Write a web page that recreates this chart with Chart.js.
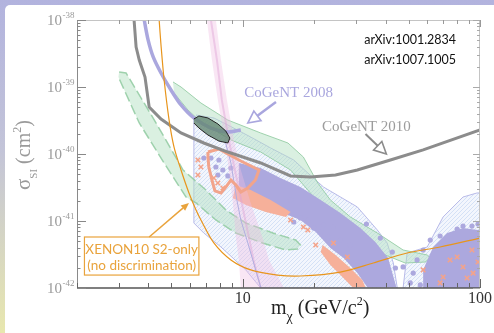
<!DOCTYPE html>
<html lang="en">
<head>
<meta charset="UTF-8">
<title>CoGeNT / XENON10 low-mass WIMP plot</title>
<style>
    body {
        margin: 0;
        width: 494px;
        height: 333px;
        overflow: hidden;
        position: relative;
        background: linear-gradient(to bottom, #b2b3de 0%, #c3c4d8 45%, #e8e7ae 100%);
    }
    .panel {
        position: absolute;
        left: 5px; top: 5px; right: 0; bottom: 0;
        background: #fff;
        border-top-left-radius: 5px;
    }
    canvas { position: absolute; left: 0; top: 0; }
</style>
</head>
<body>
<div class="panel"></div>
<canvas id="plot" width="494" height="333"></canvas>

<script src="https://cdn.jsdelivr.net/npm/chart.js"></script>
<script>
// WIMP mass in GeV/c^2, cross section in cm^2
const cogent2010Mass  = [3.48, 3.55, 3.66, 3.87, 4.03, 4.52, 5.49, 6.85, 8.65, 11.9, 15.9, 19.3, 24.6, 30.4, 41.9, 57.6, 100];
const cogent2010Sigma = [1.0e-38, 3.95e-39, 2.53e-39, 1.41e-39, 5.03e-40, 3.33e-40, 2.06e-40, 1.46e-40, 1.07e-40, 7.34e-41, 4.70e-41, 4.54e-41, 4.86e-41, 5.77e-41, 8.13e-41, 1.15e-40, 2.28e-40];

const cogent2008Mass  = [3.84, 3.99, 4.19, 4.52, 4.98, 5.49, 6.22, 7.34, 8.65, 9.81];
const cogent2008Sigma = [1.0e-38, 5.0e-39, 2.81e-39, 1.62e-39, 9.02e-40, 5.39e-40, 3.45e-40, 2.44e-40, 2.13e-40, 2.28e-40];

const xenonMass  = [4.44, 4.52, 4.66, 4.89, 5.13, 5.49, 5.93, 6.35, 6.66, 7.55, 8.91, 10.8, 14.0, 17.5, 25.8, 35.5, 49.3, 67.9, 100];
const xenonSigma = [1.0e-38, 4.24e-39, 1.27e-39, 3.21e-40, 1.27e-40, 5.77e-41, 2.62e-41, 1.46e-41, 1.035e-41, 4.70e-42, 2.62e-42, 1.86e-42, 1.56e-42, 1.51e-42, 1.73e-42, 2.36e-42, 3.33e-42, 4.09e-42, 5.57e-42];

// CoGeNT 2010 preferred region (ellipse) and the salmon contour
const ellipseMass  = [6.22, 6.53, 7.13, 7.85, 8.48, 8.82, 8.65, 7.93, 7.13, 6.53, 6.22];
const ellipseSigma = [3.33e-40, 3.69e-40, 3.45e-40, 2.81e-40, 2.20e-40, 1.73e-40, 1.46e-40, 1.56e-40, 1.92e-40, 2.44e-40, 2.90e-40];
const contourMass  = [7.13, 7.93, 8.65, 9.81, 11.7, 11.3, 10.5, 9.81, 9.35, 8.91, 8.48, 8.09, 7.63, 7.41, 7.19, 7.13, 7.13];
const contourSigma = [1.07e-40, 1.19e-40, 1.0e-40, 7.86e-41, 5.77e-41, 4.09e-41, 3.11e-41, 2.71e-41, 3.44e-41, 4.09e-41, 3.21e-41, 2.62e-41, 2.81e-41, 4.09e-41, 6.40e-41, 9.02e-41, 1.07e-40];

// pink band
const pinkMass  = [7.06, 7.41, 7.85, 8.40, 8.73, 9.08, 9.35, 9.62, 9.81, 14.9, 12.9, 12.1, 10.8, 9.81, 9.17, 8.57, 8.09, 7.70];
const pinkSigma = [1e-38, 2.53e-39, 6.40e-40, 1.62e-40, 5.77e-41, 1.86e-41, 5.77e-42, 2.62e-42, 1e-42, 1e-42, 2.62e-42, 5.77e-42, 1.86e-41, 5.77e-41, 1.62e-40, 6.40e-40, 2.53e-39, 1e-38];
const pinkMidMass  = [7.34, 7.78, 8.16, 8.73, 9.26, 9.90, 10.6, 11.1, 11.9];
const pinkMidSigma = [1e-38, 2.53e-39, 6.40e-40, 1.62e-40, 5.77e-41, 1.86e-41, 5.77e-42, 2.62e-42, 1e-42];
const thinLineMass  = [8.40, 8.91, 9.44, 9.81, 10.5, 11.9];
const thinLineSigma = [1.62e-40, 7.34e-41, 2.06e-41, 1.035e-41, 4.70e-42, 1.03e-42];

// hatched regions
const hatchAMass  = [6.35, 7.55, 8.65, 10.8, 13.1, 16.4, 18.8, 21.9, 30.4, 36.9, 40.6, 43.1, 44.8, 11.9, 10.3, 8.09, 6.85, 6.22, 6.22];
const hatchASigma = [3.82e-40, 3.45e-40, 2.71e-40, 1.79e-40, 1.23e-40, 8.13e-41, 5.20e-41, 3.21e-41, 1.62e-41, 7.34e-42, 4.70e-42, 2.36e-42, 1e-42, 1e-42, 1.86e-42, 4.09e-42, 6.62e-42, 9.33e-42, 3.45e-40];
const hatchBMass  = [47.4, 49.3, 54.3, 59.9, 69.9, 84.8, 97.1, 100, 100];
const hatchBSigma = [1e-42, 3.33e-42, 3.69e-42, 4.09e-42, 1.15e-41, 2.28e-41, 2.62e-41, 2.62e-41, 1e-42];

// green bands
const greenLowMass  = [3.01, 3.22, 4.31, 5.60, 6.99, 8.48, 10.3, 13.4, 16.7, 17.5, 17.0, 15.2, 12.1, 9.35, 7.70, 6.35, 5.76, 4.66, 3.66, 2.99];
const greenLowSigma = [1.67e-39, 1.62e-39, 2.90e-40, 5.77e-41, 2.90e-41, 1.46e-41, 9.33e-42, 6.62e-42, 5.20e-42, 4.38e-42, 3.82e-42, 3.69e-42, 4.70e-42, 6.62e-42, 1.035e-41, 1.86e-41, 2.28e-41, 7.34e-41, 2.90e-40, 1.41e-39];
const greenHighMass  = [5.08, 5.49, 6.66, 8.65, 11.9, 15.5, 18.0, 20.7, 23.4, 28.4, 36.9, 47.4, 59.9, 61.7, 58.7, 48.4, 38.0, 28.4, 21.3, 15.9, 11.9, 8.91, 6.66, 5.87, 5.13];
const greenHighSigma = [1.19e-39, 1e-39, 5.77e-40, 3.21e-40, 2.06e-40, 1.46e-40, 9.02e-41, 3.69e-41, 2.06e-41, 1.15e-41, 6.62e-42, 3.69e-42, 3.11e-42, 2.81e-42, 2.44e-42, 2.36e-42, 3.33e-42, 6.85e-42, 1.73e-41, 5.77e-41, 1.07e-40, 1.62e-40, 3.01e-40, 4.54e-40, 8.14e-40];

// dense parts of the scan points
const purpleCloudMass  = [9.62, 11.9, 14.4, 17.5, 21.3, 25.8, 31.3, 36.2, 41.0, 44.4, 33.5, 30.4, 26.6, 23.4, 20.3, 17.5, 14.4, 11.9, 10.3, 9.62];
const purpleCloudSigma = [7.34e-41, 6.18e-41, 4.39e-41, 3.21e-41, 2.06e-41, 1.32e-41, 7.87e-42, 4.86e-42, 2.81e-42, 1.03e-42, 1.03e-42, 1.67e-42, 2.81e-42, 3.95e-42, 6.85e-42, 1.035e-41, 1.36e-41, 1.86e-41, 2.44e-41, 3.44e-41];
const purpleRightMass  = [57.6, 57.6, 60.5, 63.5, 72.7, 84.8, 98.1, 100, 100];
const purpleRightSigma = [1.0e-42, 1.86e-42, 2.81e-42, 4.09e-42, 6.62e-42, 7.87e-42, 7.34e-42, 7.34e-42, 1.0e-42];
const salmonAMass  = [9.35, 10.8, 13.1, 15.9, 15.2, 12.5, 10.3, 9.08];
const salmonASigma = [3.44e-41, 2.90e-41, 2.06e-41, 1.36e-41, 1.15e-41, 1.36e-41, 1.73e-41, 2.20e-41];
const salmonBMass  = [21.7, 24.6, 28.4, 31.9, 32.9, 29.0, 26.3, 23.4, 21.3];
const salmonBSigma = [4.38e-42, 3.11e-42, 1.99e-42, 1.32e-42, 1.03e-42, 1.03e-42, 1.46e-42, 2.20e-42, 3.44e-42];

// single scan points
const dotMass  = [6.85, 7.34, 7.70, 7.93, 7.85, 8.24, 8.65, 8.91, 15.9, 16.4, 17.5, 18.9, 19.9, 21.3, 22.8, 25.8, 21.9, 24.1, 28.4, 44.0, 42.7, 38.0, 33.2, 47.4, 52.3, 54.3, 57.6, 61.7, 67.9, 80.1, 84.8, 92.5, 98.1, 50.8, 56.0];
const dotSigma = [8.71e-41, 8.71e-41, 6.40e-41, 8.13e-41, 4.86e-41, 5.77e-41, 4.70e-41, 6.18e-41, 2.06e-41, 9.66e-42, 1.11e-41, 1.035e-41, 7.87e-42, 6.85e-42, 5.77e-42, 5.20e-42, 8.71e-42, 8.14e-42, 4.38e-42, 1.99e-42, 3.44e-42, 5.57e-42, 9.02e-42, 2.06e-42, 1.67e-42, 2.62e-42, 3.69e-42, 5.20e-42, 5.97e-42, 7.60e-42, 8.41e-42, 8.41e-42, 9.02e-42, 1.19e-42, 1.11e-42];
const crossMass  = [6.47, 6.66, 6.47, 7.55, 7.85, 8.24, 15.9, 18.0, 18.8, 24.1, 27.6, 20.3, 57.6, 69.9, 74.8, 80.1, 84.8, 88.2, 93.5, 92.5, 67.9, 98.1];
const crossSigma = [8.13e-41, 6.40e-41, 4.86e-41, 4.39e-41, 3.69e-41, 3.11e-41, 1.035e-41, 8.14e-42, 7.34e-42, 4.70e-42, 2.90e-42, 4.38e-42, 1.86e-42, 1.46e-42, 2.62e-42, 2.90e-42, 2.06e-42, 1.41e-42, 1.67e-42, 3.69e-42, 1.19e-42, 2.44e-42];

const yDecades = [-38, -39, -40, -41, -42];
const xLabels = [10, 100];

function pts(m, s) {
    return m.map((v, i) => ({x: v, y: s[i]}));
}

function hatchPattern() {
    const c = document.createElement('canvas');
    c.width = 4; c.height = 4;
    const g = c.getContext('2d');
    g.fillStyle = 'rgba(228,236,250,0.45)';
    g.fillRect(0, 0, 4, 4);
    g.strokeStyle = 'rgba(168,194,238,0.5)';
    g.lineWidth = 0.8;
    g.beginPath();
    g.moveTo(0, 4); g.lineTo(4, 0);
    g.moveTo(-1, 1); g.lineTo(1, -1);
    g.moveTo(3, 5); g.lineTo(5, 3);
    g.stroke();
    return g.createPattern(c, 'repeat');
}

const none = 'rgba(0,0,0,0)';
const hatch = hatchPattern();

function region(label, m, s, fillColor, border, order, extra) {
    return Object.assign({
        label: label, data: pts(m, s), fill: 'shape',
        backgroundColor: fillColor, borderColor: border || none,
        borderWidth: 1, pointRadius: 0, order: order
    }, extra || {});
}
function curve(label, m, s, color, width, order, extra) {
    return Object.assign({
        label: label, data: pts(m, s), fill: false,
        borderColor: color, borderWidth: width, pointRadius: 0, order: order
    }, extra || {});
}

// draws frame, ticks, tick labels, axis titles and notes
const decorations = {
    id: 'decorations',
    afterDraw(chart) {
        const {ctx, chartArea: a, scales: {x, y}} = chart;
        const px = v => x.getPixelForValue(v);
        const py = v => y.getPixelForValue(v);
        ctx.save();

        // frame
        ctx.lineWidth = 1;
        ctx.strokeStyle = '#c4c4c4';
        ctx.beginPath();
        ctx.moveTo(a.left, a.top + 0.5); ctx.lineTo(a.right, a.top + 0.5);
        ctx.moveTo(a.right - 0.5, a.top); ctx.lineTo(a.right - 0.5, a.bottom);
        ctx.stroke();
        ctx.strokeStyle = '#8a8a8a';
        ctx.beginPath();
        ctx.moveTo(a.left + 0.5, a.top); ctx.lineTo(a.left + 0.5, a.bottom);
        ctx.stroke();
        ctx.strokeStyle = '#555';
        ctx.lineWidth = 1.5;
        ctx.beginPath();
        ctx.moveTo(a.left, a.bottom); ctx.lineTo(a.right, a.bottom);
        ctx.stroke();

        // x ticks
        ctx.lineWidth = 1;
        for (let d = 1; d <= 100; d *= 10) {
            for (let k = 1; k <= 9; k++) {
                const v = k * d;
                if (v < 2 || v > 100) continue;
                const X = Math.round(px(v)) + 0.5;
                const big = k === 1;
                ctx.strokeStyle = '#666';
                ctx.beginPath(); ctx.moveTo(X, a.bottom); ctx.lineTo(X, a.bottom - (big ? 9 : 5)); ctx.stroke();
                ctx.strokeStyle = '#999';
                ctx.beginPath(); ctx.moveTo(X, a.top); ctx.lineTo(X, a.top + (big ? 7 : 4)); ctx.stroke();
            }
        }
        // y ticks
        for (let e = -42; e <= -38; e++) {
            for (let k = 1; k <= 9; k++) {
                if (e === -38 && k > 1) break;
                const Y = Math.round(py(k * Math.pow(10, e))) + 0.5;
                const big = k === 1;
                ctx.strokeStyle = '#888';
                ctx.beginPath(); ctx.moveTo(a.left, Y); ctx.lineTo(a.left + (big ? 9 : 3.5), Y); ctx.stroke();
                ctx.strokeStyle = '#aaa';
                ctx.beginPath(); ctx.moveTo(a.right, Y); ctx.lineTo(a.right - (big ? 7 : 3), Y); ctx.stroke();
            }
        }

        // y tick labels: 10^e
        ctx.fillStyle = '#9a9a9a';
        ctx.textBaseline = 'alphabetic';
        ctx.textAlign = 'left';
        yDecades.forEach(e => {
            const Y = py(Math.pow(10, e));
            ctx.font = '9px "Liberation Serif"';
            const sup = String(e);
            const sw = ctx.measureText(sup).width;
            ctx.font = '15px "Liberation Serif"';
            const bw = ctx.measureText('10').width;
            const x0 = a.left - 3 - sw - bw;
            ctx.fillText('10', x0, Y + 5);
            ctx.font = '9px "Liberation Serif"';
            ctx.fillText(sup, x0 + bw + 0.5, Y - 2);
        });

        // x tick labels
        ctx.fillStyle = '#333';
        ctx.textAlign = 'center';
        ctx.font = '16px "Liberation Serif"';
        xLabels.forEach(v => ctx.fillText(String(v), px(v), a.bottom + 15));

        // x title: m_chi (GeV/c^2)
        ctx.textAlign = 'left';
        ctx.fillStyle = '#222';
        let cx = 271;
        const by = 314;
        const part = (t, size, dy) => {
            ctx.font = size + 'px "Liberation Serif"';
            ctx.fillText(t, cx, by + dy);
            cx += ctx.measureText(t).width;
        };
        part('m', 20, 0);
        part('\u03c7', 14, 7);
        part(' (GeV/c', 20, 0);
        part('2', 12, -9);
        part(')', 20, 0);

        // y title: sigma_SI (cm^2), rotated
        ctx.save();
        ctx.translate(30, 190);
        ctx.rotate(-Math.PI / 2);
        ctx.fillStyle = '#9a9a9a';
        cx = 0;
        const rpart = (t, size, dy) => {
            ctx.font = size + 'px "Liberation Serif"';
            ctx.fillText(t, cx, dy);
            cx += ctx.measureText(t).width;
        };
        rpart('\u03c3', 21, 0);
        rpart('SI', 11, 7);
        rpart(' (cm', 20, 0);
        rpart('2', 12, -9);
        rpart(')', 20, 0);
        ctx.restore();

        // references
        ctx.fillStyle = '#111';
        ctx.textAlign = 'right';
        ctx.font = '12.5px Lato';
        ctx.fillText('arXiv:1001.2834', px(79.3), py(5e-39) + 4);
        ctx.fillText('arXiv:1007.1005', px(79.3), py(2.53e-39) + 4);

        // notes with arrows
        ctx.textAlign = 'center';
        ctx.font = '15px "Liberation Serif"';
        ctx.fillStyle = '#a9a6de';
        ctx.fillText('CoGeNT 2008', px(15.6), py(8.41e-40) + 5);
        ctx.strokeStyle = '#a9a6de'; ctx.lineWidth = 2.5;
        arrow(ctx, px(13.8), py(5.97e-40), px(10.5), py(2.90e-40), true);

        ctx.fillStyle = '#9c9c9c';
        ctx.fillText('CoGeNT 2010', px(33.2), py(2.62e-40) + 5);
        ctx.strokeStyle = '#8c8c8c'; ctx.lineWidth = 2;
        arrow(ctx, px(32.9), py(1.99e-40), px(40.3), py(1.0e-40), true);

        // XENON10 box
        const bx0 = px(2.15), bx1 = px(6.53), by0 = py(5.77e-42), by1 = py(1.56e-42);
        ctx.fillStyle = '#fff';
        ctx.fillRect(bx0, by0, bx1 - bx0, by1 - by0);
        ctx.strokeStyle = '#e9a33c'; ctx.lineWidth = 1.2;
        ctx.strokeRect(bx0, by0, bx1 - bx0, by1 - by0);
        ctx.fillStyle = '#e9a33c';
        ctx.font = '13.5px Lato';
        ctx.fillText('XENON10 S2-only', (bx0 + bx1) / 2, by0 + 17);
        ctx.fillText('(no discrimination)', (bx0 + bx1) / 2, by0 + 33);
        ctx.strokeStyle = '#e9a33c'; ctx.lineWidth = 1.5;
        arrow(ctx, px(4.03), by0, px(5.93), py(1.86e-41), false);

        ctx.restore();
    }
};

function arrow(ctx, x1, y1, x2, y2, open) {
    const ang = Math.atan2(y2 - y1, x2 - x1);
    const L = open ? 12 : 8, W = open ? 6 : 3.5;
    const bx = x2 - L * Math.cos(ang), by = y2 - L * Math.sin(ang);
    ctx.beginPath(); ctx.moveTo(x1, y1); ctx.lineTo(bx, by); ctx.stroke();
    ctx.beginPath();
    ctx.moveTo(x2, y2);
    ctx.lineTo(bx + W * Math.sin(ang), by - W * Math.cos(ang));
    ctx.lineTo(bx - W * Math.sin(ang), by + W * Math.cos(ang));
    ctx.closePath();
    if (open) {
        ctx.save(); ctx.fillStyle = '#fff'; ctx.fill(); ctx.restore();
        ctx.lineWidth = 1.6;
        ctx.stroke();
    } else {
        ctx.fillStyle = ctx.strokeStyle;
        ctx.fill();
    }
}

new Chart(document.getElementById('plot'), {
    type: 'line',
    data: {
        datasets: [
            curve('XENON10 S2-only', xenonMass, xenonSigma, '#e8951c', 1.2, 1, {tension: 0.3}),
            curve('CoGeNT 2010', cogent2010Mass, cogent2010Sigma, '#8c8c8c', 3, 2),
            region('CoGeNT 2010 ellipse', ellipseMass, ellipseSigma, 'rgba(100,135,115,0.8)', '#222', 3),
            curve('contour', contourMass, contourSigma, '#f2a48b', 3, 3),
            curve('CoGeNT 2008', cogent2008Mass, cogent2008Sigma, '#aaa7de', 3.5, 4, {tension: 0.3}),
            curve('thin line', thinLineMass, thinLineSigma, '#b0aee0', 1, 5),
            curve('pink centre', pinkMidMass, pinkMidSigma, 'rgba(222,165,212,0.45)', 2, 5),
            region('pink band', pinkMass, pinkSigma, 'rgba(238,190,226,0.38)', null, 5),
            {
                label: 'scan points x', data: pts(crossMass, crossSigma), showLine: false,
                pointStyle: 'crossRot', pointRadius: 3.2, borderColor: '#f4a38a', borderWidth: 1.6, order: 6
            },
            {
                label: 'scan points', data: pts(dotMass, dotSigma), showLine: false,
                pointStyle: 'circle', pointRadius: 2.6, backgroundColor: '#aca8de', borderWidth: 0, order: 6
            },
            region('salmon A', salmonAMass, salmonASigma, '#f6b09a', null, 7),
            region('salmon B', salmonBMass, salmonBSigma, '#f6b09a', null, 7),
            region('purple cloud', purpleCloudMass, purpleCloudSigma, '#aca8de', null, 8),
            region('purple right', purpleRightMass, purpleRightSigma, '#aca8de', null, 8),
            region('green high', greenHighMass, greenHighSigma, 'rgba(178,224,192,0.48)', 'rgba(150,205,165,0.9)', 9),
            region('green low', greenLowMass, greenLowSigma, 'rgba(178,224,192,0.48)', 'rgba(150,205,165,0.9)', 9,
                {borderDash: [10, 4], borderWidth: 1.5}),
            region('hatched A', hatchAMass, hatchASigma, hatch, '#b8bae8', 10),
            region('hatched B', hatchBMass, hatchBSigma, hatch, '#b8bae8', 10)
        ]
    },
    options: {
        responsive: false,
        animation: false,
        events: [],
        layout: { padding: { left: 77, top: 20, right: 14, bottom: 45 } },
        plugins: {
            legend: { display: false },
            tooltip: { enabled: false }
        },
        scales: {
            x: { type: 'logarithmic', min: 2, max: 100, display: false },
            y: { type: 'logarithmic', min: 1e-42, max: 1e-38, display: false }
        }
    },
    plugins: [decorations]
});
</script>
</body>
</html>
